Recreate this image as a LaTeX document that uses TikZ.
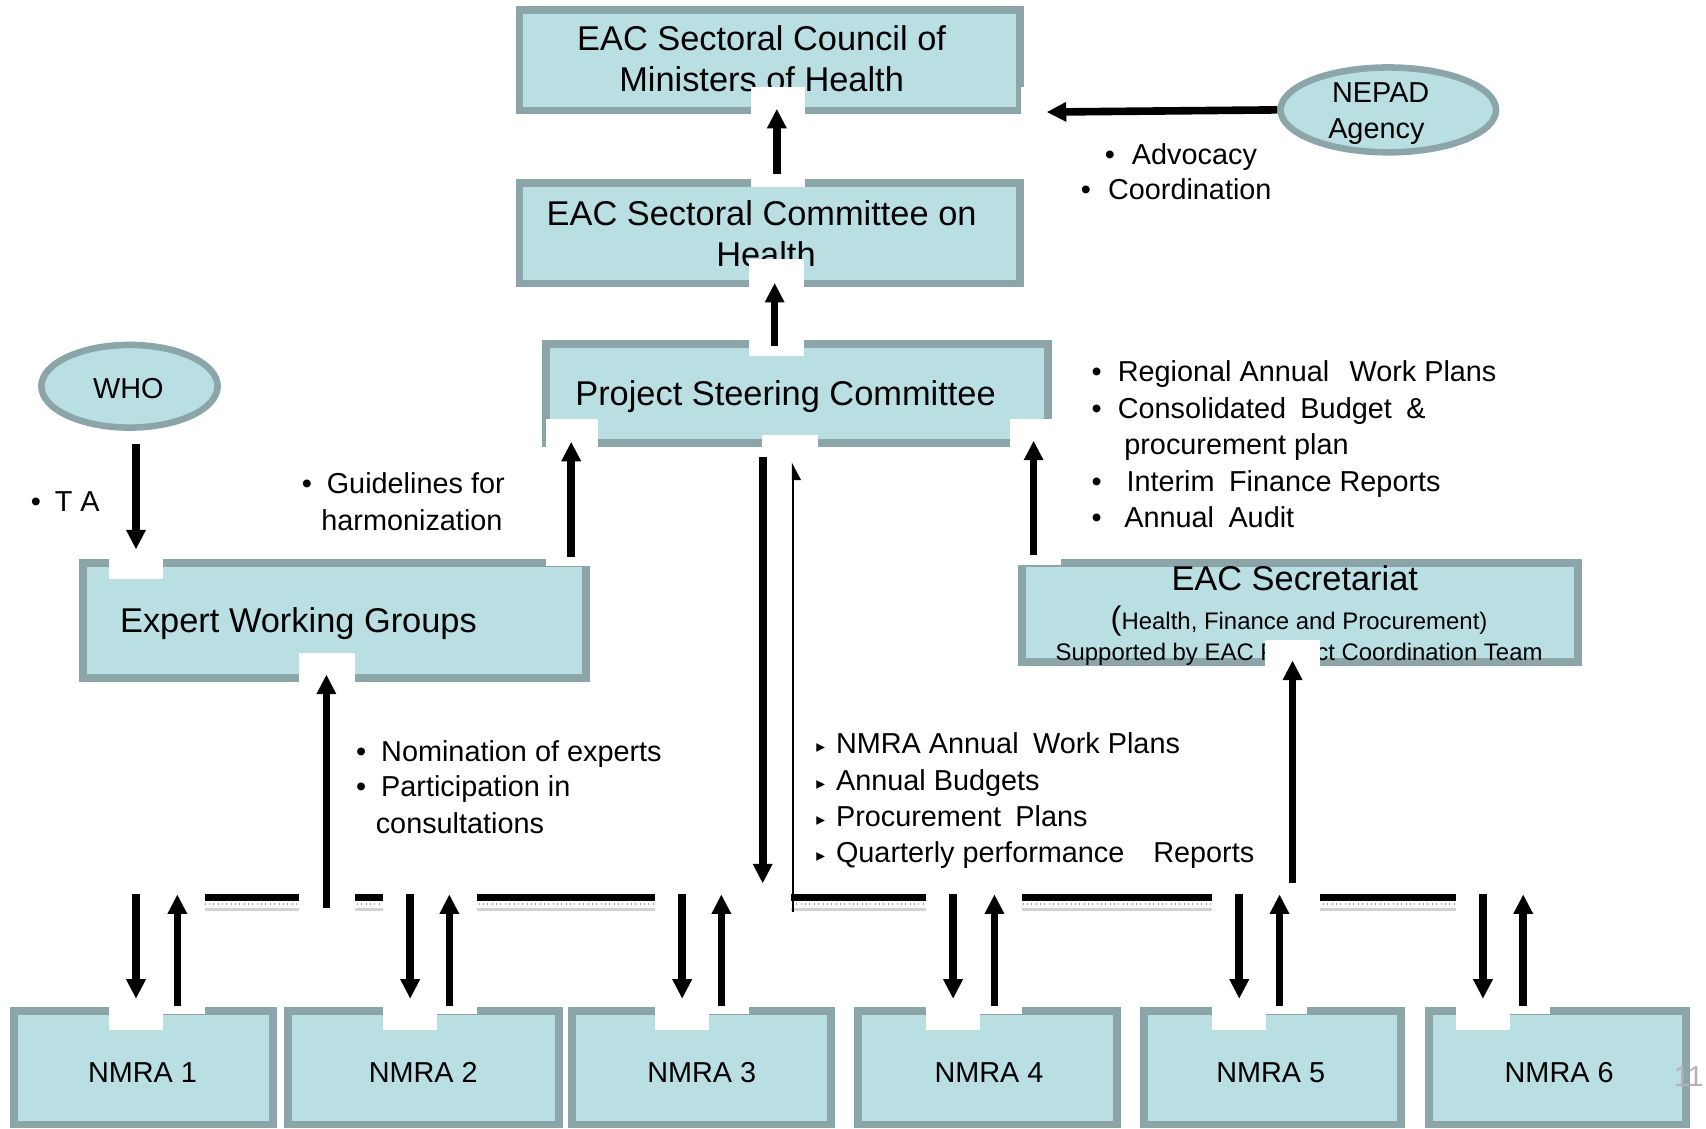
\documentclass[tikz,border=0pt]{standalone}
\usepackage{fontspec}
\setmainfont{Liberation Sans}
\newfontfamily\dejavu{DejaVu Sans}
\usetikzlibrary{arrows.meta,shapes.geometric}
\definecolor{boxfill}{RGB}{185,223,227}
\definecolor{boxline}{RGB}{139,165,168}
\newcommand\mybul[1]{\makebox[#1][l]{\textbullet}}
\newcommand\mytri{\makebox[9pt][l]{\raisebox{0.3pt}{\dejavu\fontsize{8}{8}\selectfont ▸}}}
\begin{document}
\begin{tikzpicture}[x=0.5pt,y=-0.5pt,
  box/.style={draw=boxline, fill=boxfill, line width=3.6pt, inner sep=0pt},
  oval/.style={ellipse, draw=boxline, fill=boxfill, line width=3pt, inner sep=0pt},
  patch/.style={fill=white, draw=none},
  big/.style={inner sep=0pt, font=\fontsize{15.8}{19}\selectfont},
  mid/.style={inner sep=0pt, font=\fontsize{13.25}{16}\selectfont},
  small/.style={inner sep=0pt, font=\fontsize{11}{13}\selectfont},
  bigarrow/.style={line width=3.5pt, -{Triangle[width=8.5pt,length=9pt]}},
  thinarrow/.style={line width=1.2pt, -{Triangle[width=7pt,length=7pt,right]}}]
\useasboundingbox (0,0) rectangle (1568,1037);

% ---------- boxes ----------
\node[box, minimum width=230pt, minimum height=46pt] (council) at (707.5,55.5) {};
\node[box, minimum width=230pt, minimum height=46pt] (committee) at (707.5,214.5) {};
\node[box, minimum width=231pt, minimum height=45.5pt] (psc) at (732.5,362) {};
\node[box, minimum width=231pt, minimum height=53pt] (ewg) at (307.5,570.5) {};
\node[box, minimum width=255.5pt, minimum height=45.5pt] (sec) at (1195,563) {};
\node[box, minimum width=119pt, minimum height=52pt] (n1) at (132,981.5) {};
\node[box, minimum width=124.5pt, minimum height=52pt] (n2) at (389.5,981.5) {};
\node[box, minimum width=119pt, minimum height=52pt] (n3) at (644.5,981.5) {};
\node[box, minimum width=119pt, minimum height=52pt] (n4) at (907.5,981.5) {};
\node[box, minimum width=118pt, minimum height=52pt] (n5) at (1169.5,981.5) {};
\node[box, minimum width=118pt, minimum height=52pt] (n6) at (1431.5,981.5) {};
\node[oval, minimum width=81pt, minimum height=38pt] (who) at (119,355) {};
\node[oval, minimum width=99pt, minimum height=39pt] (nepad) at (1276,101) {};

% ---------- texts in shapes ----------
\node[big, anchor=base] (t1a) at (700,46) {EAC Sectoral Council of};
\node[big, anchor=base] (t1b) at (700,84) {Ministers of Health};
\node[big, anchor=base] (t2a) at (700,207) {EAC Sectoral Committee on};
\node[big, anchor=base] (t2b) at (704,245) {Health};
\node[big, anchor=base] (t3) at (722,373) {Project Steering Committee};
\node[big, anchor=base west] (t4) at (110,581) {Expert Working Groups};
\node[big, anchor=base] (t5a) at (1190,543) {EAC Secretariat};
\node[small, anchor=base] (t5b) at (1194,579) {{\fontsize{15}{15}\selectfont(}Health, Finance and Procurement)};
\node[small, anchor=base] (t5c) at (1194,607) {Supported by EAC Project Coordination Team};
\node[mid, anchor=base] (tn1) at (1269,94.5) {NEPAD};
\node[mid, anchor=base] (tn2) at (1265,127.5) {Agency};
\node[mid, anchor=base] (tw) at (118,366.5) {WHO};
\foreach \n/\x in {1/131,2/389,3/645,4/909,5/1168,6/1433}
  \node[mid, anchor=base] (tm\n) at (\x,994.5) {NMRA \n};
\node[mid, anchor=base west, text=gray!60] (pg) at (1538,999) {11};

% ---------- bullet labels ----------
\node[mid, anchor=base west] (l1) at (1015,151.5) {\mybul{12.5pt}Advocacy};
\node[mid, anchor=base west] (l2) at (993,183.5) {\mybul{12.5pt}Coordination};
\node[mid, anchor=base west] (l3) at (28,470.5) {\mybul{11pt}T A};
\node[mid, anchor=base west] (l4) at (277,453.5) {\mybul{11.5pt}Guidelines for};
\node[mid, anchor=base west] (l5) at (295,487.5) {harmonization};
\node[mid, anchor=base west] (l6) at (327,699.5) {\mybul{11.5pt}Nomination of experts};
\node[mid, anchor=base west] (l7) at (327,732.5) {\mybul{11.5pt}Participation in};
\node[mid, anchor=base west] (l8) at (345,766.5) {consultations};
\node[mid, anchor=base west] (r1) at (1003,350.5) {\mybul{12pt}Regional Annual\hspace{0.7em}Work Plans};
\node[mid, anchor=base west] (r2) at (1003,384.5) {\mybul{12pt}Consolidated\hspace{0.5em}Budget\hspace{0.5em}\&};
\node[mid, anchor=base west] (r3) at (1033,417.5) {procurement plan};
\node[mid, anchor=base west] (r4) at (1003,451.5) {\mybul{16pt}Interim\hspace{0.5em}Finance Reports};
\node[mid, anchor=base west] (r5) at (1003,484.5) {\mybul{15pt}Annual\hspace{0.5em}Audit};
\node[mid, anchor=base west] (m1) at (750,692.5) {\mytri NMRA Annual\hspace{0.5em}Work Plans};
\node[mid, anchor=base west] (m2) at (750,726.5) {\mytri Annual Budgets};
\node[mid, anchor=base west] (m3) at (750,759.5) {\mytri Procurement\hspace{0.5em}Plans};
\node[mid, anchor=base west] (m4) at (750,792.5) {\mytri Quarterly performance\hspace{1em}Reports};

% ---------- horizontal distribution bar ----------
\coordinate (barL) at (188,825);
\coordinate (barR) at (1338,825);
\draw[line width=3pt] (barL) -- (barR);
\draw[gray!75, line width=0.9pt, dash pattern=on 0.4pt off 1.6pt] ([yshift=-2.8pt]barL) -- ([yshift=-2.8pt]barR);
\draw[gray!35, line width=1pt] ([yshift=-5.5pt]barL) -- ([yshift=-5.5pt]barR);

% ---------- white patches behind the arrows ----------
\fill[patch] (690,80) rectangle (740,172);
\fill[patch] (688,238) rectangle (739,327);
\fill[patch] (938,80) rectangle (1172,130);
\fill[patch] (100,405) rectangle (150,532);
\fill[patch] (502,385) rectangle (550,520);
\fill[patch] (275,600) rectangle (326,840);
\fill[patch] (700,400) rectangle (752,445);
\fill[patch] (677,420) rectangle (727,840);
\fill[patch] (928,385) rectangle (975,519);
\fill[patch] (1163,588) rectangle (1213,838);
\foreach \d/\u in {125/163,377/413,627/663,876/914,1139/1176,1363/1400}{
  \fill[patch] (\d-25,815) rectangle (\u+25,932);
  \fill[patch] (\d-25,815) rectangle (\d+25,947);
}

% ---------- arrow end points ----------
\coordinate (a1s) at (714,160);  \coordinate (a1e) at (714,100);
\coordinate (a2s) at (712,318);  \coordinate (a2e) at (712,260);
\coordinate (a3s) at (nepad.west); \coordinate (a3e) at (962,103);
\coordinate (a4s) at (125,408);  \coordinate (a4e) at (125,505);
\coordinate (a5s) at (525,512);  \coordinate (a5e) at (525,406);
\coordinate (a6s) at (300,835);  \coordinate (a6e) at (300,620);
\coordinate (a7s) at (701,420);  \coordinate (a7e) at (701,812);
\coordinate (a8s) at (729,838);  \coordinate (a8e) at (729,425);
\coordinate (a9s) at (950,510);  \coordinate (a9e) at (950,405);
\coordinate (a10s) at (1188,812); \coordinate (a10e) at (1188,607);

% ---------- arrows ----------
\draw[bigarrow] (a1s) -- (a1e);
\draw[bigarrow] (a2s) -- (a2e);
\draw[bigarrow] (a3s) -- (a3e);
\draw[bigarrow] (a4s) -- (a4e);
\draw[bigarrow] (a5s) -- (a5e);
\draw[bigarrow] (a6s) -- (a6e);
\draw[bigarrow] (a7s) -- (a7e);
\draw[thinarrow] (a8s) -- (a8e);
\draw[bigarrow] (a9s) -- (a9e);
\draw[bigarrow] (a10s) -- (a10e);
\foreach \d/\u/\k in {125/163/1,377/413/2,627/663/3,876/914/4,1139/1176/5,1363/1400/6}{
  \coordinate (dn\k s) at (\d,822); \coordinate (dn\k e) at (\d,918);
  \coordinate (up\k s) at (\u,925); \coordinate (up\k e) at (\u,822);
  \draw[bigarrow] (dn\k s) -- (dn\k e);
  \draw[bigarrow] (up\k s) -- (up\k e);
}
\end{tikzpicture}
\end{document}
